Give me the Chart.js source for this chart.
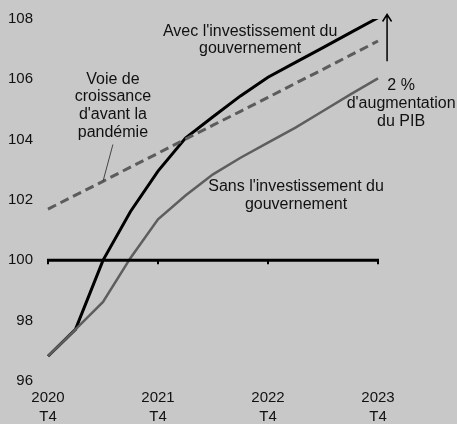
<!DOCTYPE html>
<html>
<head>
<meta charset="utf-8">
<script src="https://cdn.jsdelivr.net/npm/chart.js@4.4.1/dist/chart.umd.min.js"></script>
<style>
  html, body { margin: 0; padding: 0; background: #c8c8c8; }
  #wrap { width: 457px; height: 424px; }
</style>
</head>
<body>
<div id="wrap"><canvas id="c" width="457" height="424"></canvas></div>
<script>
// ---- data ----
const quarters = ['2020 T4','2021 T1','2021 T2','2021 T3','2021 T4','2022 T1','2022 T2','2022 T3','2022 T4','2023 T1','2023 T2','2023 T3','2023 T4'];
const avecInvestissement = [96.82, 97.71, 100.0, 101.62, 102.96, 104.05, 104.76, 105.45, 106.07, 106.56, 107.05, 107.55, 108.04];
const sansInvestissement = [96.82, 97.71, 98.62, 100.08, 101.36, 102.15, 102.85, 103.40, 103.90, 104.40, 104.95, 105.50, 106.03];
const voiePrePandemie = [101.70, 102.16, 102.62, 103.09, 103.55, 104.02, 104.48, 104.94, 105.40, 105.87, 106.33, 106.80, 107.27];
const yTicks = [96, 98, 100, 102, 104, 106, 108];
const baseline = 100;

// ---- annotations (data coordinates: x = quarter index, y = value) ----
const FAMILY = '"Liberation Sans", Arial, sans-serif';
const FONT = '16px ' + FAMILY;
const notes = [
  { x: 7.35, y: 107.59, lines: ["Avec l'investissement du", "gouvernement"], lh: 17 },
  { x: 2.36, y: 106.0, lines: ["Voie de", "croissance", "d'avant la", "pandémie"], lh: 17.7 },
  { x: 12.84, y: 105.8, lines: ["2 %", "d'augmentation", "du PIB"], lh: 18 },
  { x: 9.02, y: 102.45, lines: ["Sans l'investissement du", "gouvernement"], lh: 18 }
];
const pointer = { x1: 2.36, y1: 103.84, x2: 2.0, y2: 102.62 };
const arrow = { x: 12.33, y1: 106.6, y2: 108.15 };

const overlay = {
  id: 'overlay',
  afterDatasetsDraw(chart) {
    const ctx = chart.ctx;
    const xs = chart.scales.x, ys = chart.scales.y;
    ctx.save();
    // baseline at 100 with year ticks
    const yb = ys.getPixelForValue(baseline);
    ctx.strokeStyle = '#000';
    ctx.lineWidth = 3;
    ctx.beginPath();
    ctx.moveTo(xs.getPixelForValue(0) - 1, yb);
    ctx.lineTo(xs.getPixelForValue(quarters.length - 1) + 1, yb);
    ctx.stroke();
    ctx.lineWidth = 2;
    for (let i = 0; i < quarters.length; i += 4) {
      const px = xs.getPixelForValue(i);
      ctx.beginPath();
      ctx.moveTo(px, yb);
      ctx.lineTo(px, yb + 4);
      ctx.stroke();
    }
    // pointer line
    ctx.strokeStyle = '#444';
    ctx.lineWidth = 1;
    ctx.beginPath();
    ctx.moveTo(xs.getPixelForValue(pointer.x1), ys.getPixelForValue(pointer.y1));
    ctx.lineTo(xs.getPixelForValue(pointer.x2), ys.getPixelForValue(pointer.y2));
    ctx.stroke();
    // arrow
    const ax = xs.getPixelForValue(arrow.x);
    const ay1 = ys.getPixelForValue(arrow.y1), ay2 = ys.getPixelForValue(arrow.y2);
    ctx.strokeStyle = '#000';
    ctx.lineWidth = 1.5;
    ctx.beginPath();
    ctx.moveTo(ax, ay1);
    ctx.lineTo(ax, ay2);
    ctx.moveTo(ax - 4.5, ay2 + 7);
    ctx.lineTo(ax, ay2);
    ctx.lineTo(ax + 4.5, ay2 + 7);
    ctx.stroke();
    // text
    ctx.fillStyle = '#111';
    ctx.font = FONT;
    ctx.textAlign = 'center';
    ctx.textBaseline = 'middle';
    notes.forEach(n => {
      const px = xs.getPixelForValue(n.x), py = ys.getPixelForValue(n.y);
      n.lines.forEach((t, i) => ctx.fillText(t, px, py + i * n.lh));
    });
    ctx.restore();
  }
};

new Chart(document.getElementById('c'), {
  type: 'line',
  data: {
    labels: quarters,
    datasets: [
      { label: 'Voie de croissance', data: voiePrePandemie, borderColor: '#5c5c5c', borderWidth: 3, borderDash: [9, 5], pointRadius: 0, tension: 0 },
      { label: "Sans l'investissement", data: sansInvestissement, borderColor: '#5e5e5e', borderWidth: 2.5, pointRadius: 0, tension: 0 },
      { label: "Avec l'investissement", data: avecInvestissement, borderColor: '#000', borderWidth: 3, pointRadius: 0, tension: 0 }
    ]
  },
  options: {
    responsive: false,
    animation: false,
    devicePixelRatio: 1,
    layout: { autoPadding: false, padding: { top: 19, right: 79, left: 0, bottom: 0 } },
    plugins: { legend: { display: false }, tooltip: { enabled: false } },
    scales: {
      x: {
        type: 'category',
        offset: false,
        grid: { display: false, drawTicks: false },
        border: { display: false },
        afterFit(s) { s.height = 43; },
        ticks: {
          autoSkip: false, maxRotation: 0, minRotation: 0, padding: 8,
          color: '#111',
          font: { family: FAMILY, size: 15, lineHeight: 1.22 },
          callback(v, i) { return i % 4 === 0 ? quarters[i].split(' ') : ''; }
        }
      },
      y: {
        min: 96, max: 108,
        grid: { display: false, drawTicks: true, tickLength: 10 },
        border: { display: false },
        afterFit(s) { s.width = 48; },
        afterBuildTicks(s) { s.ticks = yTicks.map(v => ({ value: v })); },
        ticks: {
          padding: 5,
          color: '#111',
          font: { family: FAMILY, size: 15 }
        }
      }
    }
  },
  plugins: [overlay]
});
</script>
</body>
</html>
